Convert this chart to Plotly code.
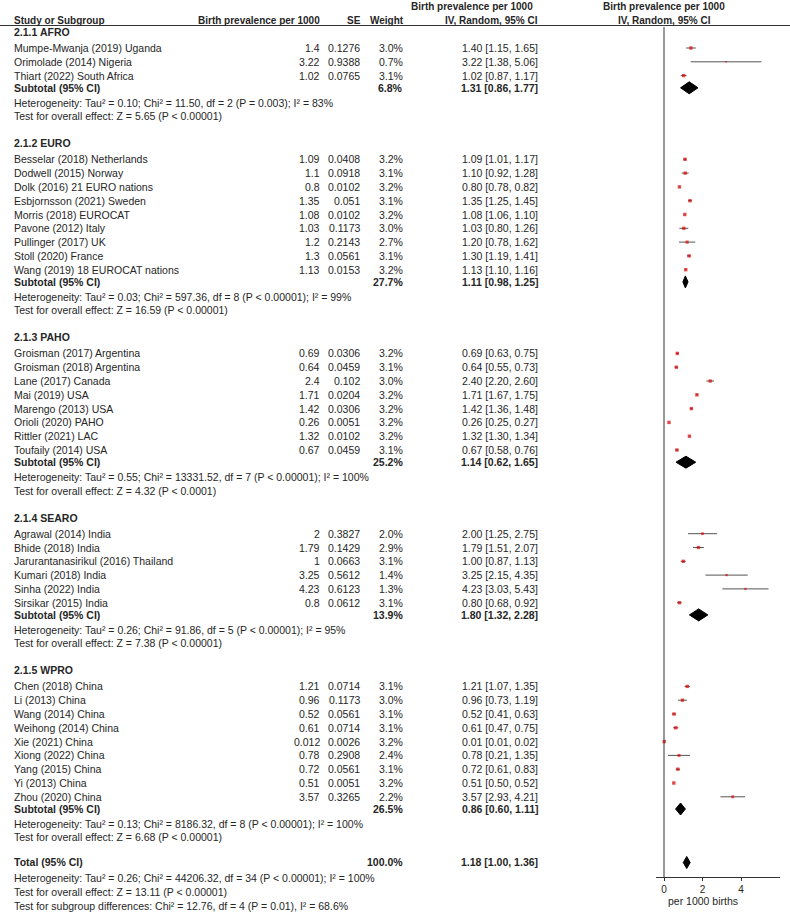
import plotly.graph_objects as go

W, H = 790, 913

# ---------------- data ----------------
group_names = ["2.1.1 AFRO", "2.1.2 EURO", "2.1.3 PAHO", "2.1.4 SEARO", "2.1.5 WPRO"]
group_sizes = [3, 9, 8, 6, 9]

studies = [
    "Mumpe-Mwanja (2019) Uganda", "Orimolade (2014) Nigeria", "Thiart (2022) South Africa",
    "Besselar (2018) Netherlands", "Dodwell (2015) Norway", "Dolk (2016) 21 EURO nations",
    "Esbjornsson (2021) Sweden", "Morris (2018) EUROCAT", "Pavone (2012) Italy",
    "Pullinger (2017) UK", "Stoll (2020) France", "Wang (2019) 18 EUROCAT nations",
    "Groisman (2017) Argentina", "Groisman (2018) Argentina", "Lane (2017) Canada",
    "Mai (2019) USA", "Marengo (2013) USA", "Orioli (2020) PAHO", "Rittler (2021) LAC",
    "Toufaily (2014) USA",
    "Agrawal (2014) India", "Bhide (2018) India", "Jarurantanasirikul (2016) Thailand",
    "Kumari (2018) India", "Sinha (2022) India", "Sirsikar (2015) India",
    "Chen (2018) China", "Li (2013) China", "Wang (2014) China", "Weihong (2014) China",
    "Xie (2021) China", "Xiong (2022) China", "Yang (2015) China", "Yi (2013) China",
    "Zhou (2020) China",
]
prevalence = [1.4, 3.22, 1.02,
              1.09, 1.1, 0.8, 1.35, 1.08, 1.03, 1.2, 1.3, 1.13,
              0.69, 0.64, 2.4, 1.71, 1.42, 0.26, 1.32, 0.67,
              2, 1.79, 1, 3.25, 4.23, 0.8,
              1.21, 0.96, 0.52, 0.61, 0.012, 0.78, 0.72, 0.51, 3.57]
se = [0.1276, 0.9388, 0.0765,
      0.0408, 0.0918, 0.0102, 0.051, 0.0102, 0.1173, 0.2143, 0.0561, 0.0153,
      0.0306, 0.0459, 0.102, 0.0204, 0.0306, 0.0051, 0.0102, 0.0459,
      0.3827, 0.1429, 0.0663, 0.5612, 0.6123, 0.0612,
      0.0714, 0.1173, 0.0561, 0.0714, 0.0026, 0.2908, 0.0561, 0.0051, 0.3265]
weight = [3.0, 0.7, 3.1,
          3.2, 3.1, 3.2, 3.1, 3.2, 3.0, 2.7, 3.1, 3.2,
          3.2, 3.1, 3.0, 3.2, 3.2, 3.2, 3.2, 3.1,
          2.0, 2.9, 3.1, 1.4, 1.3, 3.1,
          3.1, 3.0, 3.1, 3.1, 3.2, 2.4, 3.1, 3.2, 2.2]
ci_lo = [1.15, 1.38, 0.87,
         1.01, 0.92, 0.78, 1.25, 1.06, 0.80, 0.78, 1.19, 1.10,
         0.63, 0.55, 2.20, 1.67, 1.36, 0.25, 1.30, 0.58,
         1.25, 1.51, 0.87, 2.15, 3.03, 0.68,
         1.07, 0.73, 0.41, 0.47, 0.01, 0.21, 0.61, 0.50, 2.93]
ci_hi = [1.65, 5.06, 1.17,
         1.17, 1.28, 0.82, 1.45, 1.10, 1.26, 1.62, 1.41, 1.16,
         0.75, 0.73, 2.60, 1.75, 1.48, 0.27, 1.34, 0.76,
         2.75, 2.07, 1.13, 4.35, 5.43, 0.92,
         1.35, 1.19, 0.63, 0.75, 0.02, 1.35, 0.83, 0.52, 4.21]

sub_weight = [6.8, 27.7, 25.2, 13.9, 26.5]
sub_est = [1.31, 1.11, 1.14, 1.80, 0.86]
sub_lo = [0.86, 0.98, 0.62, 1.32, 0.60]
sub_hi = [1.77, 1.25, 1.65, 2.28, 1.11]
het_text = [
    "Heterogeneity: Tau² = 0.10; Chi² = 11.50, df = 2 (P = 0.003); I² = 83%",
    "Heterogeneity: Tau² = 0.03; Chi² = 597.36, df = 8 (P < 0.00001); I² = 99%",
    "Heterogeneity: Tau² = 0.55; Chi² = 13331.52, df = 7 (P < 0.00001); I² = 100%",
    "Heterogeneity: Tau² = 0.26; Chi² = 91.86, df = 5 (P < 0.00001); I² = 95%",
    "Heterogeneity: Tau² = 0.13; Chi² = 8186.32, df = 8 (P < 0.00001); I² = 100%",
]
z_text = [
    "Test for overall effect: Z = 5.65 (P < 0.00001)",
    "Test for overall effect: Z = 16.59 (P < 0.00001)",
    "Test for overall effect: Z = 4.32 (P < 0.0001)",
    "Test for overall effect: Z = 7.38 (P < 0.00001)",
    "Test for overall effect: Z = 6.68 (P < 0.00001)",
]
total_weight = 100.0
total_est, total_lo, total_hi = 1.18, 1.00, 1.36
total_het = "Heterogeneity: Tau² = 0.26; Chi² = 44206.32, df = 34 (P < 0.00001); I² = 100%"
total_z = "Test for overall effect: Z = 13.11 (P < 0.00001)"
subgroup_diff = "Test for subgroup differences: Chi² = 12.76, df = 4 (P = 0.01), I² = 68.6%"

x_ticks = [0, 2, 4]
x_label = "per 1000 births"
col_header_est = "Birth prevalence per 1000"
col_header_method = "IV, Random, 95% CI"

# ---------------- layout of rows (pixel rows) ----------------
study_y, group_y, sub_y, het_y, z_y = [], [], [], [], []
y = 32.0
for n in group_sizes:
    group_y.append(y)
    y += 16
    for i in range(n):
        study_y.append(y)
        y += 13.8
    y -= 13.8
    y += 12.2; sub_y.append(y)
    y += 15; het_y.append(y)
    y += 13.5; z_y.append(y)
    y += 27
total_y = z_y[-1] + 25
total_het_y = total_y + 15.5
total_z_y = total_het_y + 14
subdiff_y = total_z_y + 14

AXIS_Y = 877
X0_PX, XL_PX, XR_PX = 664, 656, 780
SCALE = 19.25

TXT = "#262626"
FONT = "Liberation Sans, Arial, sans-serif"
FS = 10.5

COL_STUDY = 12
COL_PREV = 322
COL_SE = 362
COL_W = 405
COL_CI = 540

annotations = []


def txt(px, py, s, anchor="left", bold=False, size=FS):
    annotations.append(dict(
        x=px / W, y=1 - py / H, xref="paper", yref="paper",
        text=f"<b>{s}</b>" if bold else s, showarrow=False,
        xanchor=anchor, yanchor="middle",
        font=dict(family=FONT, size=size, color=TXT),
    ))


def ci_str(e, l, h):
    return f"{e:.2f} [{l:.2f}, {h:.2f}]"


# headers
txt(COL_STUDY, 20, "Study or Subgroup", bold=True, size=10)
txt(COL_PREV, 20, col_header_est, "right", bold=True, size=10)
txt(COL_SE + 1, 20, "SE", "right", bold=True, size=10)
txt(COL_W + 1, 20, "Weight", "right", bold=True, size=10)
txt(472, 6.5, col_header_est, "center", bold=True, size=10)
txt(COL_CI, 20, col_header_method, "right", bold=True, size=10)
txt(664, 6.5, col_header_est, "center", bold=True, size=10)
txt(664, 20, col_header_method, "center", bold=True, size=10)

k = 0
for g, n in enumerate(group_sizes):
    txt(COL_STUDY, group_y[g], group_names[g], bold=True)
    for i in range(n):
        yy = study_y[k]
        txt(COL_STUDY, yy, studies[k])
        txt(COL_PREV, yy, f"{prevalence[k]:g}", "right")
        txt(COL_SE, yy, f"{se[k]:g}", "right")
        txt(COL_W, yy, f"{weight[k]:.1f}%", "right")
        txt(COL_CI, yy, ci_str(prevalence[k], ci_lo[k], ci_hi[k]), "right")
        k += 1
    txt(COL_STUDY, sub_y[g], "Subtotal (95% CI)", bold=True)
    txt(COL_W, sub_y[g], f"{sub_weight[g]:.1f}%", "right", bold=True)
    txt(COL_CI, sub_y[g], ci_str(sub_est[g], sub_lo[g], sub_hi[g]), "right", bold=True)
    txt(COL_STUDY, het_y[g], het_text[g])
    txt(COL_STUDY, z_y[g], z_text[g])

txt(COL_STUDY, total_y, "Total (95% CI)", bold=True)
txt(COL_W, total_y, f"{total_weight:.1f}%", "right", bold=True)
txt(COL_CI, total_y, ci_str(total_est, total_lo, total_hi), "right", bold=True)
txt(COL_STUDY, total_het_y, total_het)
txt(COL_STUDY, total_z_y, total_z)
txt(COL_STUDY, subdiff_y, subgroup_diff)

# ---------------- forest marks ----------------
fig = go.Figure()

lx, ly = [], []
for i in range(len(studies)):
    lx += [ci_lo[i], ci_hi[i], None]
    ly += [study_y[i], study_y[i], None]
fig.add_trace(go.Scatter(x=lx, y=ly, mode="lines",
                         line=dict(color="#555555", width=1),
                         hoverinfo="skip", showlegend=False, cliponaxis=False))

fig.add_trace(go.Scatter(
    x=prevalence, y=study_y, mode="markers",
    marker=dict(symbol="square", color="#e00000",
                size=[3.4 * (w / 3.2) ** 0.5 for w in weight], line=dict(width=0)),
    hoverinfo="skip", showlegend=False, cliponaxis=False))

DH = 6
diamonds = list(zip(sub_est, sub_lo, sub_hi, sub_y)) + [(total_est, total_lo, total_hi, total_y)]
for e, l, h, yy in diamonds:
    fig.add_trace(go.Scatter(
        x=[l, e, h, e, l], y=[yy, yy - DH, yy, yy + DH, yy],
        mode="lines", fill="toself", fillcolor="#000000",
        line=dict(color="#000000", width=1),
        hoverinfo="skip", showlegend=False, cliponaxis=False))

# zero line and header rule
fig.add_shape(type="line", xref="x", yref="y", x0=0, x1=0, y0=27, y1=AXIS_Y,
              line=dict(color="#333333", width=1))
fig.add_shape(type="line", xref="paper", yref="paper", x0=0, x1=1,
              y0=1 - 25.5 / H, y1=1 - 25.5 / H, line=dict(color="#333333", width=1))

annotations.append(dict(
    x=2.05, y=1 - 901 / H, xref="x", yref="paper", text=x_label, showarrow=False,
    xanchor="center", yanchor="middle", font=dict(family=FONT, size=FS, color=TXT)))

fig.update_layout(
    width=W, height=H, margin=dict(l=0, r=0, t=0, b=0),
    paper_bgcolor="white", plot_bgcolor="white",
    showlegend=False, annotations=annotations,
    xaxis=dict(domain=[XL_PX / W, XR_PX / W],
               range=[(XL_PX - X0_PX) / SCALE, (XR_PX - X0_PX) / SCALE],
               tickvals=x_ticks, ticktext=[str(t) for t in x_ticks],
               ticks="outside", ticklen=3, tickcolor="#333333",
               showline=True, linecolor="#333333", linewidth=1,
               showgrid=False, zeroline=False,
               tickfont=dict(family=FONT, size=10, color=TXT)),
    yaxis=dict(domain=[(H - AXIS_Y) / H, 1], range=[AXIS_Y, 0],
               visible=False, showgrid=False, zeroline=False),
)

fig.write_html("out.html", config={"displayModeBar": False},
               post_script="document.body.style.margin='0px';document.body.style.overflow='hidden';")
